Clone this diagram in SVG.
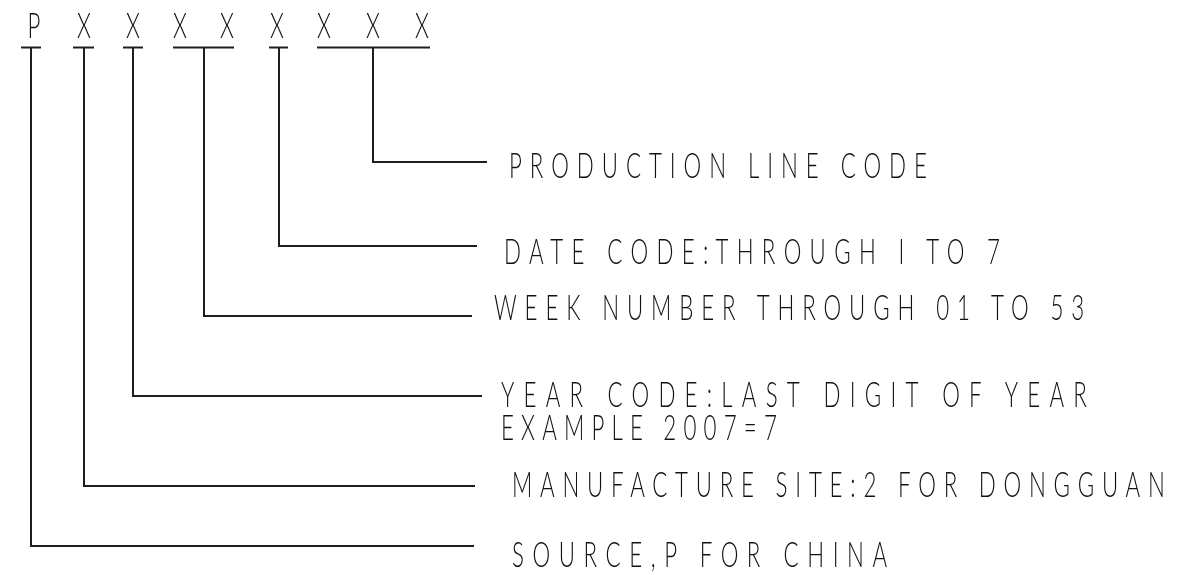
<svg xmlns="http://www.w3.org/2000/svg" width="1202" height="575" viewBox="0 0 1202 575">
<style>
.t{font-family:"Lato","Liberation Sans",Arial,sans-serif;font-weight:300;font-size:36px;fill:#111}
.c{font-family:"Lato","Liberation Sans",Arial,sans-serif;font-weight:300;font-size:36px;fill:#111;text-anchor:middle}
.ln{stroke:#1e1e1e;stroke-width:2;fill:none;stroke-linecap:butt}
.lbl{filter:url(#gray)}
</style>
<defs>
<filter id="gray" x="-5%" y="-20%" width="110%" height="140%"><feOffset dx="0" dy="0"/></filter>
</defs>
<rect width="1202" height="575" fill="#ffffff"/>
<g id="code" class="lbl">
<text class="c" transform="translate(34,38) scale(0.62,1)">P</text>
<text class="c" transform="translate(84,38) scale(0.62,1)">X</text>
<text class="c" transform="translate(133,38) scale(0.62,1)">X</text>
<text class="c" transform="translate(180,38) scale(0.62,1)">X</text>
<text class="c" transform="translate(227,38) scale(0.62,1)">X</text>
<text class="c" transform="translate(277,38) scale(0.62,1)">X</text>
<text class="c" transform="translate(324,38) scale(0.62,1)">X</text>
<text class="c" transform="translate(373,38) scale(0.62,1)">X</text>
<text class="c" transform="translate(422,38) scale(0.62,1)">X</text>
</g>
<g id="connectors">
<path class="ln" d="M21 47.5H41M31 47.5V546H474"/>
<path class="ln" d="M73 47.5H94M84 47.5V486H475"/>
<path class="ln" d="M123 47.5H143M133 47.5V396H482"/>
<path class="ln" d="M173 47.5H234M204 47.5V316H472"/>
<path class="ln" d="M269 47.5H288M279 47.5V246H477"/>
<path class="ln" d="M317 47.5H430M373 47.5V162H487"/>
</g>
<g id="production-line" class="lbl">
<text class="t" transform="translate(509,178) scale(0.62,1)" textLength="674" lengthAdjust="spacing">PRODUCTION LINE CODE</text>
</g>
<g id="date-code" class="lbl">
<text class="t" transform="translate(504,264) scale(0.62,1)" textLength="800" lengthAdjust="spacing">DATE CODE:THROUGH I TO 7</text>
</g>
<g id="week-number" class="lbl">
<text class="t" transform="translate(494,320) scale(0.62,1)" textLength="952" lengthAdjust="spacing">WEEK NUMBER THROUGH 01 TO 53</text>
</g>
<g id="year-code" class="lbl">
<text class="t" transform="translate(501,407) scale(0.62,1)" textLength="945" lengthAdjust="spacing">YEAR CODE:LAST DIGIT OF YEAR</text>
<text class="t" transform="translate(501,440) scale(0.62,1)" textLength="445" lengthAdjust="spacing">EXAMPLE 2007=7</text>
</g>
<g id="manufacture-site" class="lbl">
<text class="t" transform="translate(512,497) scale(0.62,1)" textLength="1053" lengthAdjust="spacing">MANUFACTURE SITE:2 FOR DONGGUAN</text>
</g>
<g id="source" class="lbl">
<text class="t" transform="translate(512,567) scale(0.62,1)" textLength="605" lengthAdjust="spacing">SOURCE,P FOR CHINA</text>
</g>
</svg>
